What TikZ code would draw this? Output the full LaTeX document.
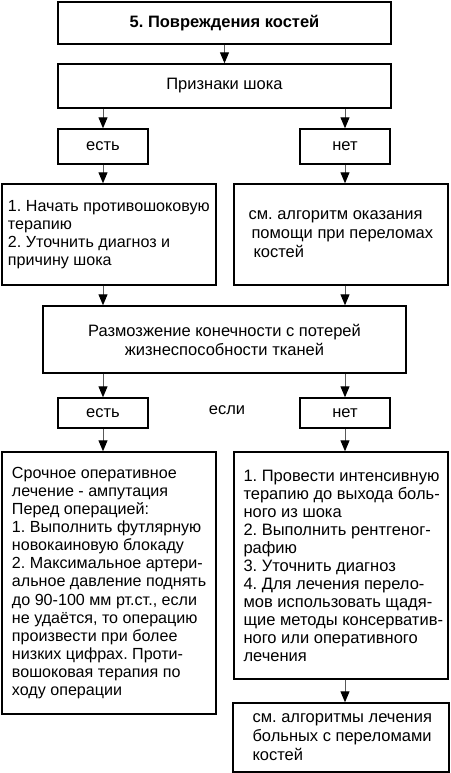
\documentclass[tikz,border=0pt]{standalone}
\usepackage{fontspec}
\setmainfont{Liberation Sans}
\usetikzlibrary{arrows.meta}
\begin{document}
\frenchspacing
\begin{tikzpicture}[x=1pt,y=-1pt,
  box/.style={draw,line width=1.4pt,inner sep=0pt,font=\fontsize{16.5}{18}\selectfont},
  frame/.style={draw,line width=1.4pt,inner sep=0pt,minimum width=214pt},
  txt/.style={anchor=west,align=left,inner sep=0pt,font=\fontsize{16.5}{18}\selectfont},
  small/.style={box,minimum width=90pt},
  arr/.style={draw=black!65,line width=1pt,-{Triangle[width=9pt,length=11pt,color=black]}}]
\useasboundingbox (0,0) rectangle (450,773);
\node[box,minimum width=333pt,minimum height=42pt] (title) at (224.5,23) {\bfseries 5. Повреждения костей};
\node[box,minimum width=333pt,minimum height=44pt] (shock) at (224.5,86) {Признаки шока};
\node[small,minimum height=35pt] (yes1) at (103,146.5) {есть};
\node[small,minimum height=35pt] (no1) at (345,146.5) {нет};
\node[frame,minimum height=101pt] (L1) at (109,234.5) {};
\node[txt,font=\fontsize{16.1}{18.2}\selectfont] (L1t) at ([xshift=6.5pt]L1.west)
  {1. Начать противошоковую\\терапию\\2. Уточнить диагноз и\\причину шока};
\node[frame,minimum height=101pt] (R1) at (341,234.5) {};
\node[txt,font=\fontsize{16.5}{19}\selectfont] (R1t) at ([xshift=15pt]R1.west)
  {см. алгоритм оказания\\\hspace{3pt}помощи при переломах\\\hspace{5pt}костей};
\node[box,minimum width=363pt,minimum height=67pt,align=center,font=\fontsize{16.5}{19}\selectfont] (mid) at (224.5,339.5)
  {Размозжение конечности с потерей\\жизнеспособности тканей};
\node[small,minimum height=30pt] (yes2) at (103,413) {есть};
\node[small,minimum height=30pt] (no2) at (345,413) {нет};
\node[font=\fontsize{16.5}{18}\selectfont] (esli) at (227,410) {если};
\node[frame,minimum height=262pt] (L2) at (109,583) {};
\node[txt,font=\fontsize{16.1}{18.1}\selectfont] (L2t) at ([xshift=10.5pt]L2.west)
  {Срочное оперативное\\лечение - ампутация\\Перед операцией:\\1. Выполнить футлярную\\новокаиновую блокаду\\2. Максимальное артери-\\альное давление поднять\\до 90-100 мм рт.ст., если\\не удаётся, то операцию\\произвести при более\\низких цифрах. Проти-\\вошоковая терапия по\\ходу операции};
\node[frame,minimum height=227pt] (R2) at (341,565.5) {};
\node[txt] (R2t) at ([xshift=10pt]R2.west)
  {1. Провести интенсивную\\терапию до выхода боль-\\ного из шока\\2. Выполнить рентгеног-\\рафию\\3. Уточнить диагноз\\4. Для лечения перело-\\мов использовать щадя-\\щие методы консерватив-\\ного или оперативного\\лечения};
\node[frame,minimum width=216pt,minimum height=69pt] (last) at (341,737.5) {};
\node[txt,font=\fontsize{16.5}{19}\selectfont] (lastt) at ([xshift=20pt]last.west)
  {см. алгоритмы лечения\\больных с переломами\\костей};
\draw[arr] (title.south) -- (shock.north);
\draw[arr] (yes1.north |- shock.south) -- (yes1.north);
\draw[arr] (no1.north |- shock.south) -- (no1.north);
\draw[arr] (yes1.south) -- (yes1.south |- L1.north);
\draw[arr] (no1.south) -- (no1.south |- R1.north);
\draw[arr] (yes1.south |- L1.south) -- (yes1.south |- mid.north);
\draw[arr] (no1.south |- R1.south) -- (no1.south |- mid.north);
\draw[arr] (yes2.north |- mid.south) -- (yes2.north);
\draw[arr] (no2.north |- mid.south) -- (no2.north);
\draw[arr] (yes2.south) -- (yes2.south |- L2.north);
\draw[arr] (no2.south) -- (no2.south |- R2.north);
\draw[arr] (no2.south |- R2.south) -- (no2.south |- last.north);
\end{tikzpicture}
\end{document}
